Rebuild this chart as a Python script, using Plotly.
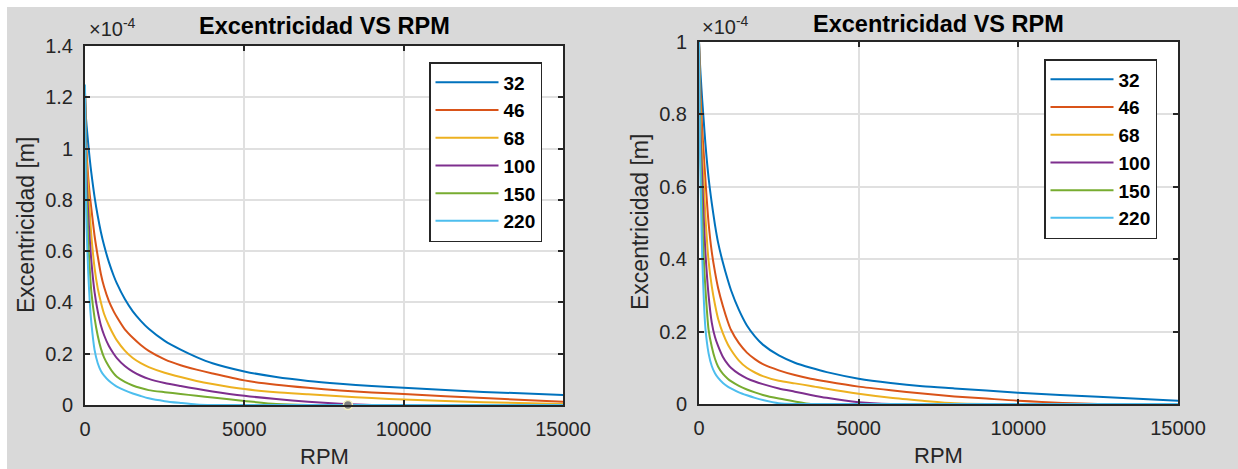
import plotly.graph_objects as go

# ---------------- data (eccentricity in units of 1e-4 m) ----------------
rpm = [0, 25, 50, 100, 150, 200, 300, 400, 500, 600, 750, 900, 1000, 1250, 1500,
       1750, 2000, 2500, 3000, 3500, 4000, 5000, 6000, 7000, 8000, 9000, 10000,
       12500, 15000]
series_names = ["32", "46", "68", "100", "150", "220"]

left_32 = [1.21, 1.13, 1.09, 1.02, 0.958, 0.904, 0.812, 0.737, 0.674, 0.622, 0.557, 0.504,
           0.474, 0.413, 0.365, 0.328, 0.297, 0.25, 0.216, 0.187, 0.163, 0.131, 0.109,
           0.094, 0.083, 0.074, 0.067, 0.051, 0.039]
left_46 = [1.22, 1.08, 0.99, 0.89, 0.82, 0.765, 0.66, 0.58, 0.51, 0.46, 0.405, 0.365,
           0.343, 0.295, 0.262, 0.234, 0.211, 0.178, 0.155, 0.138, 0.123, 0.096, 0.079,
           0.067, 0.057, 0.049, 0.043, 0.027, 0.013]
left_68 = [1.22, 1.04, 0.95, 0.85, 0.75, 0.66, 0.535, 0.455, 0.40, 0.355, 0.31, 0.273,
           0.252, 0.212, 0.183, 0.163, 0.148, 0.126, 0.109, 0.094, 0.082, 0.062, 0.05,
           0.042, 0.034, 0.027, 0.021, 0.011, 0.004]
left_100 = [1.22, 0.98, 0.88, 0.75, 0.645, 0.56, 0.44, 0.365, 0.31, 0.272, 0.23, 0.2,
            0.183, 0.152, 0.13, 0.114, 0.102, 0.086, 0.074, 0.063, 0.053, 0.036, 0.023,
            0.013, 0.005, 0.0, 0.0, 0.0, 0.0]
left_150 = [1.22, 0.9, 0.81, 0.64, 0.53, 0.44, 0.34, 0.27, 0.22, 0.185, 0.15, 0.123,
            0.11, 0.09, 0.076, 0.066, 0.058, 0.05, 0.043, 0.036, 0.029, 0.016, 0.004,
            0.0, 0.0, 0.0, 0.0, 0.0, 0.0]
left_220 = [1.25, 0.83, 0.69, 0.52, 0.40, 0.32, 0.215, 0.163, 0.133, 0.115, 0.095, 0.08,
            0.072, 0.057, 0.045, 0.035, 0.026, 0.015, 0.008, 0.002, 0.0, 0.0, 0.0,
            0.0, 0.0, 0.0, 0.0, 0.0, 0.0]

right_32 = [1.0, 0.95, 0.91, 0.84, 0.78, 0.72, 0.625, 0.555, 0.495, 0.445, 0.39, 0.343,
            0.315, 0.26, 0.217, 0.187, 0.164, 0.134, 0.114, 0.1, 0.088, 0.07, 0.058,
            0.049, 0.043, 0.037, 0.031, 0.02, 0.009]
right_46 = [1.0, 0.92, 0.85, 0.76, 0.69, 0.62, 0.5, 0.42, 0.365, 0.32, 0.27, 0.228,
            0.205, 0.168, 0.142, 0.124, 0.11, 0.093, 0.08, 0.07, 0.062, 0.048, 0.038,
            0.029, 0.021, 0.015, 0.009, 0.0, 0.0]
right_68 = [1.0, 0.88, 0.8, 0.69, 0.61, 0.52, 0.395, 0.325, 0.275, 0.235, 0.195, 0.165,
            0.15, 0.12, 0.1, 0.087, 0.077, 0.064, 0.057, 0.05, 0.042, 0.028, 0.017,
            0.009, 0.002, 0.0, 0.0, 0.0, 0.0]
right_100 = [1.0, 0.83, 0.74, 0.625, 0.51, 0.42, 0.3, 0.225, 0.185, 0.16, 0.13, 0.11,
             0.1, 0.083, 0.071, 0.062, 0.055, 0.043, 0.034, 0.025, 0.017, 0.005, 0.0,
             0.0, 0.0, 0.0, 0.0, 0.0, 0.0]
right_150 = [1.0, 0.78, 0.68, 0.53, 0.40, 0.32, 0.205, 0.158, 0.125, 0.103, 0.083, 0.07,
             0.063, 0.05, 0.04, 0.032, 0.025, 0.015, 0.007, 0.0, 0.0, 0.0, 0.0,
             0.0, 0.0, 0.0, 0.0, 0.0, 0.0]
right_220 = [1.0, 0.73, 0.61, 0.41, 0.29, 0.21, 0.14, 0.105, 0.085, 0.072, 0.058, 0.048,
             0.043, 0.032, 0.024, 0.017, 0.011, 0.002, 0.0, 0.0, 0.0, 0.0, 0.0,
             0.0, 0.0, 0.0, 0.0, 0.0, 0.0]

left_series = [left_32, left_46, left_68, left_100, left_150, left_220]
right_series = [right_32, right_46, right_68, right_100, right_150, right_220]

datatip_x = [8250]
datatip_y = [0.0]

x_tickvals = [0, 5000, 10000, 15000]
x_ticktext = ["0", "5000", "10000", "15000"]
left_yticks = [0, 0.2, 0.4, 0.6, 0.8, 1.0, 1.2, 1.4]
left_yticktext = ["0", "0.2", "0.4", "0.6", "0.8", "1", "1.2", "1.4"]
right_yticks = [0, 0.2, 0.4, 0.6, 0.8, 1.0]
right_yticktext = ["0", "0.2", "0.4", "0.6", "0.8", "1"]

colors = ["#0072BD", "#D95319", "#EDB120", "#7E2F8E", "#77AC30", "#4DBEEE"]

W, H = 1238, 469
FONT = "Liberation Sans, Arial, Helvetica, sans-serif"
AX = "#262626"

fig = go.Figure()

for name, vals, c in zip(series_names, left_series, colors):
    fig.add_trace(go.Scatter(x=rpm, y=vals, mode="lines", name=name,
                             line=dict(color=c, width=2, shape="spline", smoothing=0.7),
                             xaxis="x", yaxis="y", legend="legend"))
for name, vals, c in zip(series_names, right_series, colors):
    fig.add_trace(go.Scatter(x=rpm, y=vals, mode="lines", name=name,
                             line=dict(color=c, width=2, shape="spline", smoothing=0.7),
                             xaxis="x2", yaxis="y2", legend="legend2"))

fig.add_trace(go.Scatter(x=datatip_x, y=datatip_y, mode="markers", showlegend=False,
                         marker=dict(size=9, color="#808080", line=dict(color="#f5f0c0", width=1.5)),
                         cliponaxis=False, xaxis="x", yaxis="y", hoverinfo="skip"))


def px_x(p):
    return p / W


def px_y(p):
    return 1 - p / H


axis_common = dict(showline=True, linecolor=AX, linewidth=2, mirror="ticks",
                   ticks="inside", ticklen=5, tickwidth=1.5, tickcolor=AX,
                   showgrid=True, gridcolor="#e0e0e0", gridwidth=2, zeroline=False,
                   tickfont=dict(family=FONT, size=20, color=AX), automargin=False)

legend_font = dict(family=FONT, size=19, color="black", weight="bold")

fig.update_layout(
    width=W, height=H,
    margin=dict(l=0, r=0, t=0, b=0),
    paper_bgcolor="#d9d9d9",
    plot_bgcolor="white",
    font=dict(family=FONT, color=AX),
    xaxis=dict(domain=[px_x(85), px_x(563)], range=[0, 15000], tickvals=x_tickvals,
               ticktext=x_ticktext, anchor="y", ticklabelstandoff=5, **axis_common),
    yaxis=dict(domain=[px_y(405), px_y(46)], range=[0, 1.4], tickvals=left_yticks,
               ticktext=left_yticktext, anchor="x", ticklabelstandoff=6, **axis_common),
    xaxis2=dict(domain=[px_x(699), px_x(1178)], range=[0, 15000], tickvals=x_tickvals,
                ticktext=x_ticktext, anchor="y2", ticklabelstandoff=5, **axis_common),
    yaxis2=dict(domain=[px_y(404), px_y(42)], range=[0, 1.0], tickvals=right_yticks,
                ticktext=right_yticktext, anchor="x2", ticklabelstandoff=6, **axis_common),
    legend=dict(x=px_x(429), y=px_y(62), xanchor="left", yanchor="top",
                bgcolor="white", bordercolor=AX, borderwidth=1.5, itemwidth=63,
                font=legend_font),
    legend2=dict(x=px_x(1044), y=px_y(59), xanchor="left", yanchor="top",
                 bgcolor="white", bordercolor=AX, borderwidth=1.5, itemwidth=63,
                 font=legend_font),
    showlegend=True,
)

shapes = [
    dict(type="rect", xref="paper", yref="paper", x0=0, x1=1, y0=px_y(7), y1=1,
         fillcolor="white", line=dict(width=0), layer="below"),
    dict(type="rect", xref="paper", yref="paper", x0=0, x1=px_x(7), y0=0, y1=1,
         fillcolor="white", line=dict(width=0), layer="below"),
]
fig.update_layout(shapes=shapes)

ann = []
for cx, ty in [((85 + 563) / 2, 26), ((699 + 1178) / 2, 24)]:
    ann.append(dict(text="<b>Excentricidad VS RPM</b>", x=px_x(cx), y=px_y(ty),
                    xref="paper", yref="paper", showarrow=False, xanchor="center",
                    yanchor="middle", font=dict(family=FONT, size=23.5, color="black")))
for lx, ly in [(87, 28), (700, 25)]:
    ann.append(dict(text="×10<sup>-4</sup>", x=px_x(lx), y=px_y(ly), xref="paper",
                    yref="paper", showarrow=False, xanchor="left", yanchor="middle",
                    font=dict(family=FONT, size=20, color=AX)))
for cx, cy in [((85 + 563) / 2, 456), ((699 + 1178) / 2, 455)]:
    ann.append(dict(text="RPM", x=px_x(cx), y=px_y(cy), xref="paper", yref="paper",
                    showarrow=False, xanchor="center", yanchor="middle",
                    font=dict(family=FONT, size=22, color=AX)))
for cx, cy in [(26, 225), (640, 222)]:
    ann.append(dict(text="Excentricidad [m]", x=px_x(cx), y=px_y(cy), xref="paper",
                    yref="paper", showarrow=False, textangle=-90, xanchor="center",
                    yanchor="middle", font=dict(family=FONT, size=23, color=AX)))
fig.update_layout(annotations=ann)

fig.write_html("out.html")
